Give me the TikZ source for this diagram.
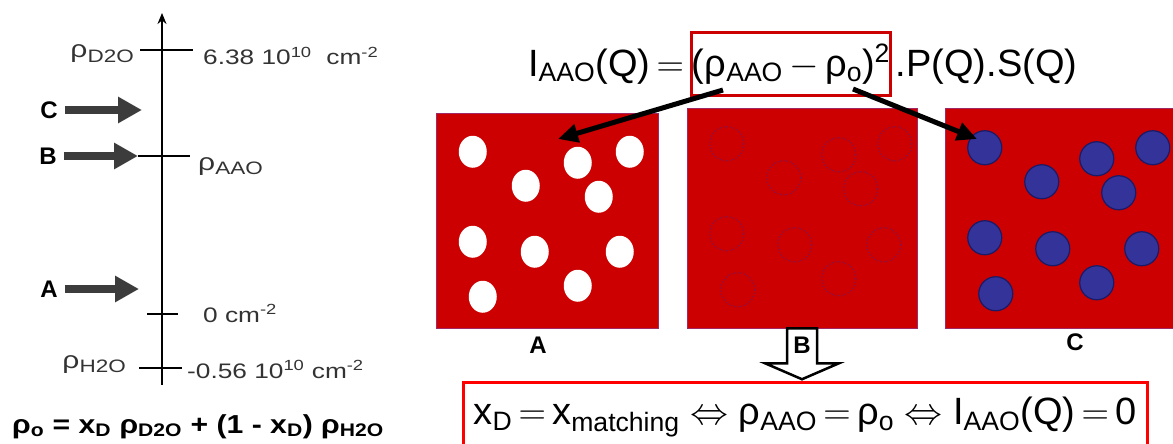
\RequirePackage{fix-cm}
\documentclass[tikz,border=0pt]{standalone}
\usepackage{fontspec}
\usepackage{graphicx}
\setmainfont{Liberation Sans}
\usetikzlibrary{arrows.meta,positioning,calc}
\definecolor{aaored}{HTML}{CC0000}
\definecolor{npblue}{HTML}{333399}
\definecolor{npedge}{HTML}{1A1A66}
\definecolor{axgray}{HTML}{3C3C3C}
\definecolor{txgray}{HTML}{333333}
\newcommand{\sbs}[1]{\textsubscript{#1}}
\newcommand{\sps}[1]{\textsuperscript{#1}}
\newcommand{\lsub}[1]{\raisebox{-0.35ex}{\scalebox{0.75}{#1}}}
\newcommand{\wide}[2][1.25]{\scalebox{#1}[1]{#2}}
\newcommand{\equivarrow}{\;$\Leftrightarrow$\;}
\newcommand{\eqsign}{\,$=$\,}

\begin{document}
\begin{tikzpicture}[x=1pt,y=-1pt,
  every node/.style={font=\fontsize{21}{24}\selectfont,text=txgray,inner sep=0pt},
  axis/.style={line width=2.5pt,-{Stealth[length=11pt,width=9pt]}},
  tick/.style={line width=1.2pt},
  fat/.style={line width=8pt,axgray,-{Triangle[length=24pt,width=25pt]}},
  lbl/.style={font=\bfseries\fontsize{24}{26}\selectfont,text=black,inner sep=7pt},
  rho/.style={font=\fontsize{24}{26}\selectfont},
  eq/.style={font=\fontsize{38}{44}\selectfont,text=black},
  sample/.style={fill=aaored,draw={rgb,255:red,160;green,40;blue,100},line width=0.5pt},
  ptr/.style={line width=5pt,-{Triangle[length=20pt,width=18pt]}},
  np/.style={fill=npblue,draw=npedge,line width=1.2pt},
  ghost/.style={draw={rgb,255:red,130;green,20;blue,80},line width=1.2pt,dotted},
  hollow/.style={draw,fill=white,line width=2.5pt,line join=miter},
  resbox/.style={draw=red,line width=3pt,minimum width=684,minimum height=70,
    font=\fontsize{38}{44}\selectfont,text=black}]
\useasboundingbox (0,0) rectangle (1173,444);

% echelle de densite de longueur de diffusion
\coordinate (axbot) at (162,385);
\coordinate (axtop) at (162,13);
\draw[axis] (axbot) -- (axtop);
\draw[tick] (140,50) -- (193,50);
\draw[tick] (138,156) -- (190,156);
\draw[tick] (147,314) -- (178,314);
\draw[tick] (139,368) -- (182,368);
\node[rho,anchor=base east] (rd2o) at (134,58) {\wide{ρ\lsub{D2O}}};
\node[anchor=base west] (vd2o) at (203,65) {\wide{6.38 10\sps{10}~ cm\sps{-2}}};
\node[rho,anchor=base west] (raao) at (198,170) {\wide{ρ\lsub{AAO}}};
\node[anchor=base west] (vzero) at (203,322) {\wide{0 cm\sps{-2}}};
\node[rho,anchor=base east] (rh2o) at (126,368) {\wide{ρ\lsub{H2O}}};
\node[anchor=base west] (vh2o) at (187,378) {\wide{-0.56 10\sps{10} cm\sps{-2}}};

\node[lbl] (lblC) at (49,110) {C};
\node[lbl] (lblB) at (48,156) {B};
\node[lbl] (lblA) at (49,289) {A};
\coordinate (tipC) at (142,110);
\coordinate (tipB) at (138,156);
\coordinate (tipA) at (139,289);
\draw[fat] (lblC) -- (tipC);
\draw[fat] (lblB) -- (tipB);
\draw[fat] (lblA) -- (tipA);

\node[anchor=base,font=\bfseries\fontsize{26}{28}\selectfont,text=black] (mix) at (198,433)
  {\wide[1.16]{ρ\sbs{o} = x\sbs{D} ρ\sbs{D2O} + (1 - x\sbs{D}) ρ\sbs{H2O}}};

% intensite diffusee
\node[eq,draw=aaored,line width=3pt,minimum width=196,minimum height=62] (rhobox) at (791,64)
  {(ρ\sbs{AAO}\,$-$\,ρ\sbs{o})\sps{2}};
\node[eq,base left=0pt of rhobox] (eql) {I\sbs{AAO}(Q)\eqsign};
\node[eq,base right=4pt of rhobox] (eqr) {.P(Q).S(Q)};

% les trois contrastes
\node[sample,minimum width=222,minimum height=215] (boxA) at (547,220.5) {};
\node[sample,minimum width=230,minimum height=220] (boxB) at (802,218) {};
\node[sample,minimum width=230,minimum height=220] (boxC) at (1060,218) {};
\begin{scope}[shift={(boxA.north west)}]
  \foreach \x/\y in {37/39,142/50,194/39,90/73,163/84,37/129,99/139,184/139,47/184,142/173}
    \fill[white] (\x,\y) ellipse [x radius=14,y radius=16];
\end{scope}
\begin{scope}[shift={($(boxB.north west)+(0,-4)$)}]
  \foreach \x/\y in {40/40,152/51,208/40,97/74,174/85,40/130,108/141,197/141,51/186,152/175}
    \draw[ghost] (\x,\y) circle [radius=17];
\end{scope}
\begin{scope}[shift={(boxC.north west)}]
  \foreach \x/\y in {40/40,152/51,208/40,97/74,174/85,40/130,108/141,197/141,51/186,152/175}
    \draw[np] (\x,\y) circle [radius=17];
\end{scope}

\coordinate (fromA) at (723,90);
\coordinate (fromC) at (853,89);
\coordinate (toA) at (558,139);
\coordinate (toC) at (977,139);
\draw[ptr] (fromA) -- (toA);
\draw[ptr] (fromC) -- (toC);

\node[lbl,text=black] (nA) at (538,345) {A};
\node[lbl,text=black] (nC) at (1075,342) {C};
\draw[hollow] (boxB.south) ++(-15,0) -- ++(0,35) -- ++(-22,0) -- ++(37,16)
  -- ++(37,-16) -- ++(-22,0) -- ++(0,-35) -- cycle;
\node[lbl,text=black] (nB) at (802,345) {B};

\node[resbox] (res) at (805,417)
  {x\sbs{D}\eqsign x\sbs{matching}\equivarrow ρ\sbs{AAO}\eqsign ρ\sbs{o}\equivarrow I\sbs{AAO}(Q)\eqsign 0};
\end{tikzpicture}
\end{document}
